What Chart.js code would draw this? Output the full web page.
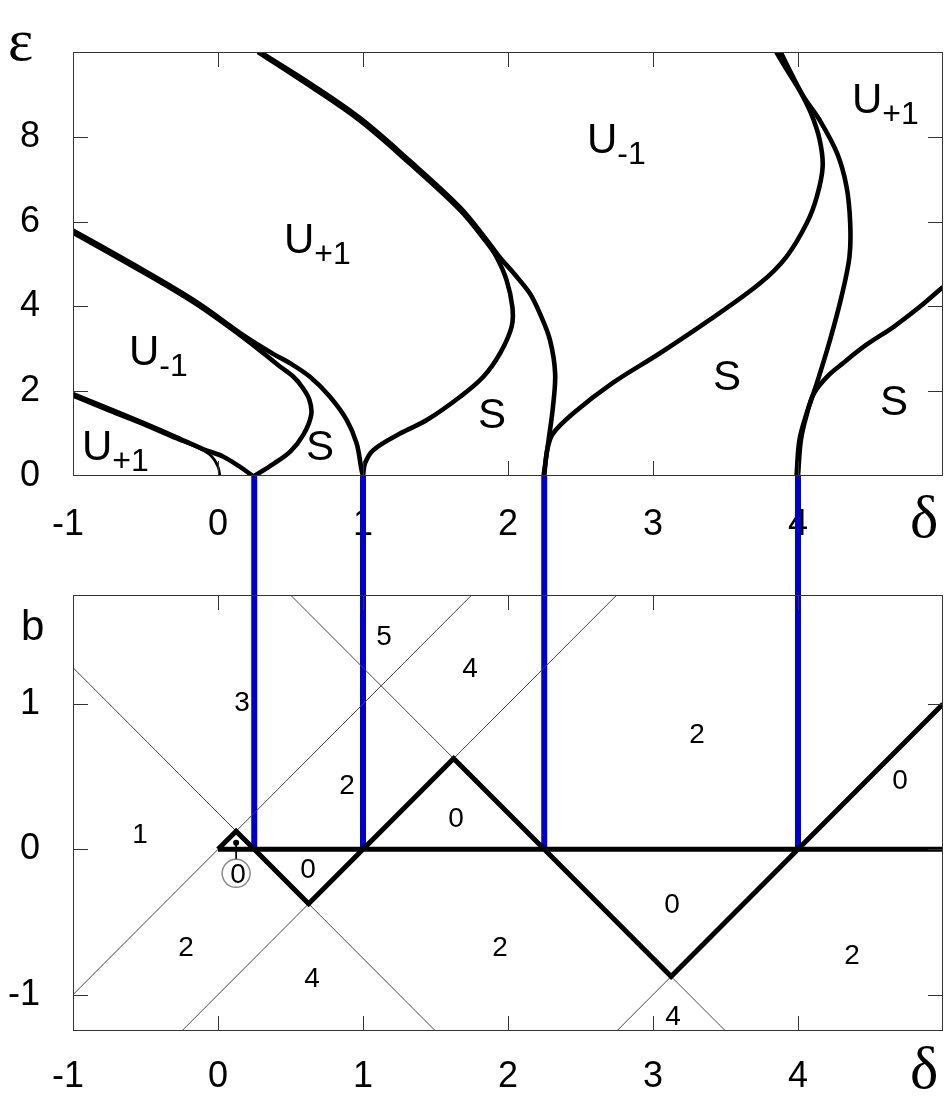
<!DOCTYPE html>
<html>
<head>
<meta charset="utf-8">
<script src="https://cdn.jsdelivr.net/npm/chart.js@4.4.1/dist/chart.umd.min.js"></script>
<style>
  html, body { margin: 0; padding: 0; background: #fff; overflow: hidden; }
  #wrap { position: relative; width: 944px; height: 1097px; overflow: hidden; background: #fff; }
  #chartEps { position: absolute; left: 0; top: 0; }
  #chartB { position: absolute; left: 0; top: 476px; }
</style>
</head>
<body>
<div id="wrap">
  <canvas id="chartEps" width="944" height="560"></canvas>
  <canvas id="chartB" width="944" height="621"></canvas>
</div>
<script>
// ---------------------------------------------------------------------------
// Axes
// ---------------------------------------------------------------------------
var DELTA_MIN = -1, DELTA_MAX = 5;
var deltaTicks = [-1, 0, 1, 2, 3, 4];
var EPS_MIN = 0, EPS_MAX = 10;
var epsTicks = [0, 2, 4, 6, 8];
var B_MIN = -1.25, B_MAX = 1.75;
var bTicks = [-1, 0, 1];

// resonance points delta = n^2/4
var resonances = [0.25, 1, 2.25, 4];

// ---------------------------------------------------------------------------
// Upper panel: transition curves, [delta, eps]
// ---------------------------------------------------------------------------
var curveC1 = [[0.014, 0.0], [0.0, 0.22], [-0.043, 0.46], [-0.124, 0.64], [-0.29, 0.87],
  [-0.52, 1.21], [-0.75, 1.52], [-1.0, 1.87]];
var curveC2 = [[0.24, 0.0], [0.15, 0.22], [0.034, 0.46], [-0.10, 0.63], [-0.285, 0.91],
  [-0.52, 1.26], [-0.745, 1.58], [-1.0, 1.93]];
var curveC3 = [[0.25, 0.0], [0.38, 0.28], [0.5, 0.58], [0.59, 0.98], [0.643, 1.45], [0.63, 1.8],
  [0.58, 2.1], [0.52, 2.34], [0.42, 2.6], [0.2, 3.2], [-0.17, 4.1], [-0.63, 5.03], [-1.0, 5.74]];
var curveC4 = [[1.0, 0.0], [0.99, 0.14], [0.956, 0.77], [0.888, 1.32], [0.772, 1.87],
  [0.634, 2.34], [0.497, 2.66], [0.38, 2.88], [0.2, 3.26], [-0.17, 4.15], [-0.63, 5.08], [-1.0, 5.79]];
var curveC5 = [[1.0, 0.0], [1.014, 0.3], [1.07, 0.61], [1.255, 1.0], [1.44, 1.32], [1.67, 1.87],
  [1.83, 2.34], [1.945, 2.89], [2.025, 3.52], [2.03, 3.99], [1.99, 4.62], [1.92, 5.17],
  [1.85, 5.52], [1.67, 6.27], [1.32, 7.38], [0.98, 8.38], [0.634, 9.2], [0.276, 10.0]];
var curveC6 = [[2.245, 0.0], [2.28, 0.85], [2.31, 1.63], [2.325, 2.42], [2.29, 3.2], [2.22, 3.83],
  [2.15, 4.31], [2.04, 4.78], [1.94, 5.17], [1.85, 5.58], [1.67, 6.33], [1.32, 7.44],
  [0.98, 8.44], [0.634, 9.26], [0.29, 10.0]];
var curveC7 = [[2.25, 0.0], [2.27, 0.61], [2.31, 1.0], [2.45, 1.48], [2.72, 2.19], [3.05, 2.9],
  [3.39, 3.68], [3.74, 4.55], [3.92, 5.17], [4.06, 5.96], [4.13, 6.59], [4.17, 7.29], [4.15, 7.92],
  [4.09, 8.55], [4.01, 9.1], [3.92, 9.6], [3.85, 10.0]];
var curveC8 = [[3.99, 0.0], [4.01, 0.85], [4.06, 1.48], [4.13, 2.19], [4.22, 3.2], [4.30, 4.23],
  [4.355, 5.17], [4.36, 5.96], [4.335, 6.82], [4.27, 7.61], [4.15, 8.39], [4.04, 8.94],
  [3.96, 9.45], [3.88, 10.0]];
var curveC9 = [[4.0, 0.0], [4.02, 0.85], [4.06, 1.45], [4.11, 1.95], [4.2, 2.34], [4.31, 2.66],
  [4.47, 3.09], [4.66, 3.52], [4.84, 3.99], [5.0, 4.46]];

// C1 is the fine branch ending at the origin
var epsCurves = [curveC1, curveC2, curveC3, curveC4, curveC5, curveC6, curveC7, curveC8, curveC9];
var epsCurveWidths = [2.6, 4.6, 4.6, 4.6, 4.6, 4.6, 4.6, 4.6, 4.6];

// region names (left edge, baseline) in [delta, eps]
var epsRegionLabels = [
  { main: 'U', sub: '+1', d: -0.938, e: 0.377 },
  { main: 'U', sub: '-1', d: -0.614, e: 2.616 },
  { main: 'U', sub: '+1', d: 0.455, e: 5.256 },
  { main: 'U', sub: '-1', d: 2.545, e: 7.61 },
  { main: 'U', sub: '+1', d: 4.372, e: 8.555 },
  { main: 'S', d: 0.607, e: 0.389 },
  { main: 'S', d: 1.793, e: 1.143 },
  { main: 'S', d: 3.414, e: 2.039 },
  { main: 'S', d: 4.566, e: 1.449 }
];

// ---------------------------------------------------------------------------
// Lower panel: b(delta) lines, [delta, b]
// ---------------------------------------------------------------------------
var zeroLine = [[0, 0], [5, 0]];
var zigzag = [[0, 0], [0.125, 0.125], [0.25, 0], [0.625, -0.375], [1, 0], [1.625, 0.625],
  [2.25, 0], [3.125, -0.875], [4, 0], [5, 1]];
var thinLines = [
  [[-1, -1], [1.75, 1.75]],
  [[-1, 1.25], [1.5, -1.25]],
  [[-0.25, -1.25], [2.75, 1.75]],
  [[0.5, 1.75], [3.5, -1.25]],
  [[2.75, -1.25], [5, 1]]
];
var markerStem = [[0.125, 0.045], [0.125, -0.065]];
var markerRing = [[0.125, -0.165]];

// region counts (centre, baseline) in [delta, b]
var bRegionLabels = [
  { t: '5', d: 1.145, b: 1.405 },
  { t: '4', d: 1.738, b: 1.184 },
  { t: '3', d: 0.166, b: 0.95 },
  { t: '2', d: 3.303, b: 0.729 },
  { t: '2', d: 0.89, b: 0.384 },
  { t: '1', d: -0.538, b: 0.045 },
  { t: '0', d: 1.641, b: 0.155 },
  { t: '0', d: 4.703, b: 0.418 },
  { t: '0', d: 0.621, b: -0.197 },
  { t: '0', d: 0.138, b: -0.231 },
  { t: '0', d: 3.131, b: -0.44 },
  { t: '2', d: -0.221, b: -0.735 },
  { t: '2', d: 1.945, b: -0.735 },
  { t: '4', d: 0.648, b: -0.95 },
  { t: '2', d: 4.372, b: -0.79 },
  { t: '4', d: 3.138, b: -1.212 }
];

var SANS = '"Liberation Sans", Arial, sans-serif';
var SERIF = '"Liberation Serif", "Times New Roman", serif';

// ---------------------------------------------------------------------------
// helpers
// ---------------------------------------------------------------------------
function pts(arr) {
  return arr.map(function(p) { return { x: p[0], y: p[1] }; });
}

// lower "order" is painted on top
function lineSet(arr, width, color, tension, order) {
  return {
    data: pts(arr),
    showLine: true,
    borderColor: color,
    borderWidth: width,
    pointRadius: 0,
    tension: tension,
    fill: false,
    order: order,
    borderJoinStyle: 'miter',
    borderCapStyle: 'butt'
  };
}

function fixTicks(values) {
  return function(scale) {
    scale.ticks = values.map(function(v) { return { value: v }; });
  };
}

// fixed axis band, no extra room reserved for edge labels
function fitAxis(size) {
  return function(s) {
    if (s.isHorizontal()) s.height = size; else s.width = size;
    s.paddingLeft = 0; s.paddingRight = 0; s.paddingTop = 0; s.paddingBottom = 0;
  };
}

// frame + inward tick marks on all four sides
function drawFrame(chart, xVals, yVals) {
  var ctx = chart.ctx, a = chart.chartArea;
  var xs = chart.scales.x, ys = chart.scales.y;
  var L = 15;
  ctx.save();
  ctx.strokeStyle = '#333';
  ctx.lineWidth = 1;
  ctx.strokeRect(a.left + 0.5, a.top + 0.5, a.right - a.left - 1, a.bottom - a.top - 1);
  ctx.beginPath();
  xVals.forEach(function(v) {
    var x = Math.round(xs.getPixelForValue(v)) + 0.5;
    ctx.moveTo(x, a.top); ctx.lineTo(x, a.top + L);
    ctx.moveTo(x, a.bottom); ctx.lineTo(x, a.bottom - L);
  });
  yVals.forEach(function(v) {
    var y = Math.round(ys.getPixelForValue(v)) + 0.5;
    ctx.moveTo(a.left, y); ctx.lineTo(a.left + L, y);
    ctx.moveTo(a.right, y); ctx.lineTo(a.right - L, y);
  });
  ctx.stroke();
  ctx.restore();
}

function scaleOpts(min, max, values, size, pad, fmt) {
  var o = {
    type: 'linear',
    min: min,
    max: max,
    afterBuildTicks: fixTicks(values),
    afterFit: fitAxis(size),
    grid: { display: false, drawTicks: false },
    border: { display: false },
    ticks: {
      font: { family: SANS, size: 36 },
      color: '#000',
      padding: pad,
      maxRotation: 0,
      autoSkip: false
    }
  };
  if (fmt) o.ticks.callback = fmt;
  return o;
}

// negative delta labels sit a little left of their tick
function deltaLabel(v) {
  return v < 0 ? String(v) + ' ' : String(v);
}

// ---------------------------------------------------------------------------
// Upper panel
// ---------------------------------------------------------------------------
var epsDatasets = epsCurves.map(function(c, i) {
  return lineSet(c, epsCurveWidths[i], '#000', 0.35, 0);
});

var epsPanelPlugin = {
  id: 'epsPanel',
  afterDraw: function(chart) {
    var ctx = chart.ctx, xs = chart.scales.x, ys = chart.scales.y, a = chart.chartArea;
    drawFrame(chart, [0, 1, 2, 3, 4], [2, 4, 6, 8]);
    ctx.save();
    ctx.fillStyle = '#000';
    ctx.textBaseline = 'alphabetic';
    ctx.textAlign = 'left';
    epsRegionLabels.forEach(function(l) {
      var x = xs.getPixelForValue(l.d), y = ys.getPixelForValue(l.e);
      ctx.font = '42px ' + SANS;
      ctx.fillText(l.main, x, y);
      if (l.sub) {
        var w = ctx.measureText(l.main).width;
        ctx.font = '32px ' + SANS;
        ctx.fillText(l.sub, x + w, y + 11);
      }
    });
    // axis symbols
    ctx.font = '60px ' + SERIF;
    ctx.fillText('\u03B5', a.left - 65, a.top + 8);
    ctx.fillText('\u03B4', a.right - 33, a.bottom + 61);
    ctx.restore();
  }
};

var topChart = new Chart(document.getElementById('chartEps'), {
  type: 'scatter',
  data: { datasets: epsDatasets },
  options: {
    responsive: false,
    animation: false,
    events: [],
    layout: { autoPadding: false, padding: { left: 0, right: 1, top: 52, bottom: 0 } },
    plugins: { legend: { display: false }, tooltip: { enabled: false } },
    scales: {
      x: scaleOpts(DELTA_MIN, DELTA_MAX, deltaTicks, 84, 27, deltaLabel),
      y: scaleOpts(EPS_MIN, EPS_MAX, epsTicks, 73, 33)
    }
  },
  plugins: [epsPanelPlugin]
});

// ---------------------------------------------------------------------------
// Lower panel
// ---------------------------------------------------------------------------
var bDatasets = [];
thinLines.forEach(function(l) { bDatasets.push(lineSet(l, 1, '#444', 0, 3)); });
bDatasets.push(lineSet(zeroLine, 5, '#000', 0, 2));
bDatasets.push(lineSet(zigzag, 5, '#000', 0, 2));
var stem = lineSet(markerStem, 1, '#000', 0, 1);
stem.pointRadius = [3, 0];
stem.pointBackgroundColor = '#000';
stem.pointBorderWidth = 0;
bDatasets.push(stem);
bDatasets.push({
  data: pts(markerRing),
  showLine: false,
  order: 1,
  pointStyle: 'circle',
  pointRadius: 14,
  pointBackgroundColor: 'rgba(0,0,0,0)',
  pointBorderColor: '#888',
  pointBorderWidth: 1.5
});

var bPanelPlugin = {
  id: 'bPanel',
  beforeDatasetsDraw: function(chart) {
    // vertical links from eps = 0 (upper panel) down to b = 0
    var ctx = chart.ctx, xs = chart.scales.x, ys = chart.scales.y;
    var topRect = topChart.canvas.getBoundingClientRect();
    var botRect = chart.canvas.getBoundingClientRect();
    var yTop = topChart.scales.y.getPixelForValue(0) + topRect.top - botRect.top;
    var yBot = ys.getPixelForValue(0);
    ctx.save();
    ctx.strokeStyle = '#0000cc';
    ctx.lineWidth = 6;
    resonances.forEach(function(d) {
      var x = xs.getPixelForValue(d);
      ctx.beginPath();
      ctx.moveTo(x, yTop);
      ctx.lineTo(x, yBot);
      ctx.stroke();
    });
    ctx.restore();
  },
  afterDraw: function(chart) {
    var ctx = chart.ctx, xs = chart.scales.x, ys = chart.scales.y, a = chart.chartArea;
    drawFrame(chart, [0, 1, 2, 3, 4], bTicks);
    ctx.save();
    ctx.fillStyle = '#000';
    ctx.textAlign = 'center';
    ctx.textBaseline = 'alphabetic';
    ctx.font = '28px ' + SANS;
    bRegionLabels.forEach(function(l) {
      ctx.fillText(l.t, xs.getPixelForValue(l.d), ys.getPixelForValue(l.b));
    });
    ctx.textAlign = 'left';
    ctx.font = '42px ' + SANS;
    ctx.fillText('b', a.left - 52, a.top + 45);
    ctx.font = '60px ' + SERIF;
    ctx.fillText('\u03B4', a.right - 33, a.bottom + 57);
    ctx.restore();
  }
};

var bChart = new Chart(document.getElementById('chartB'), {
  type: 'scatter',
  data: { datasets: bDatasets },
  options: {
    responsive: false,
    animation: false,
    events: [],
    layout: { autoPadding: false, padding: { left: 0, right: 1, top: 119, bottom: 0 } },
    plugins: { legend: { display: false }, tooltip: { enabled: false } },
    scales: {
      x: scaleOpts(DELTA_MIN, DELTA_MAX, deltaTicks, 66, 24, deltaLabel),
      y: scaleOpts(B_MIN, B_MAX, bTicks, 73, 33)
    }
  },
  plugins: [bPanelPlugin]
});
</script>
</body>
</html>
